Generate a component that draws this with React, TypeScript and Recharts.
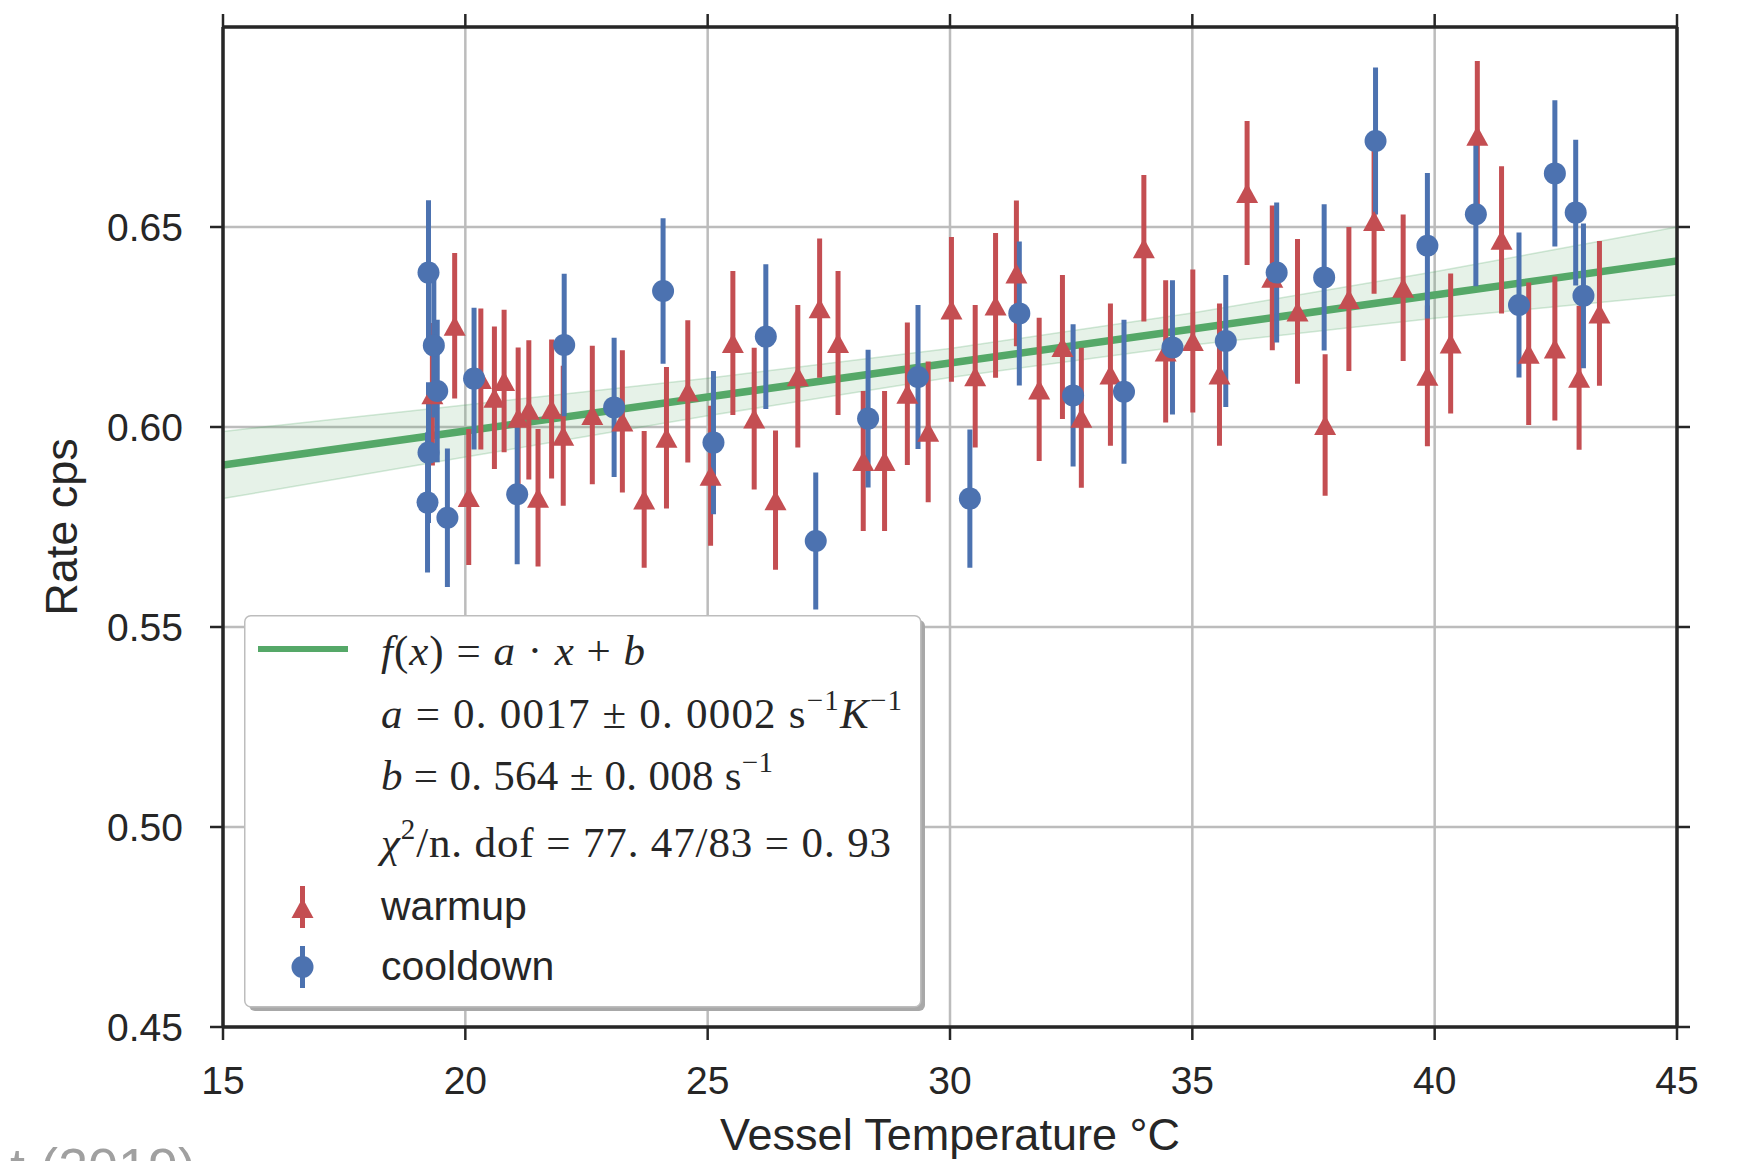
import React from 'react';
import { ComposedChart, Scatter, Line, Area, XAxis, YAxis, CartesianGrid, ErrorBar } from 'recharts';

const xTicks = [15, 20, 25, 30, 35, 40, 45];
const yTicks = [0.45, 0.5, 0.55, 0.6, 0.65];

// warmup run (temperature in degC, rate in cps, 1 sigma error)
const warmupT = [
  19.32, 19.78, 20.07, 20.32, 20.6, 20.8, 21.09, 21.31, 21.5, 21.78, 22.02, 22.62, 23.24, 23.69, 24.15, 24.59, 25.06, 25.52,
  25.96, 26.4, 26.86, 27.31, 27.69, 28.21, 28.65, 29.12, 29.55, 30.03, 30.52, 30.94, 31.37, 31.84, 32.32, 32.71, 33.31, 34.0,
  34.45, 35.01, 35.56, 36.13, 36.65, 37.17, 37.74, 38.23, 38.75, 39.35, 39.85, 40.33, 40.88, 41.38, 41.94, 42.48, 42.98, 43.4,
];
const warmupRate = [
  0.6082, 0.6253, 0.5825, 0.612, 0.6073, 0.6115, 0.6023, 0.6043, 0.5823, 0.6045, 0.5978, 0.603, 0.6014, 0.5819, 0.5973, 0.6089, 0.5878, 0.621,
  0.6021, 0.5817, 0.6127, 0.6297, 0.621, 0.5915, 0.5915, 0.6083, 0.5988, 0.6294, 0.6127, 0.6304, 0.6384, 0.6094, 0.62, 0.6023, 0.6131, 0.6447,
  0.6189, 0.6215, 0.6131, 0.6585, 0.6373, 0.6289, 0.6005, 0.632, 0.6515, 0.6348, 0.6128, 0.6209, 0.6728, 0.6468, 0.6183, 0.6196, 0.6123, 0.6284,
];
const warmupErr = [
  0.0178, 0.0182, 0.017, 0.0176, 0.0178, 0.0178, 0.0176, 0.0174, 0.0172, 0.0174, 0.0175, 0.0173, 0.0178, 0.0171, 0.0177, 0.0178, 0.0175, 0.018,
  0.0177, 0.0174, 0.0178, 0.0174, 0.018, 0.0175, 0.0175, 0.0178, 0.0176, 0.0181, 0.0178, 0.0181, 0.0182, 0.0179, 0.018, 0.0175, 0.0178, 0.0183,
  0.0178, 0.0179, 0.0178, 0.018, 0.0181, 0.0181, 0.0177, 0.018, 0.0182, 0.0183, 0.0176, 0.0175, 0.0187, 0.0184, 0.0178, 0.018, 0.018, 0.0181,
];

// cooldown run
const cooldownT = [
  19.24, 19.35, 19.42, 19.24, 19.22, 19.63, 20.18, 21.07, 22.04, 23.07, 24.08, 25.12, 26.2, 27.23, 28.31, 29.34,
  30.41, 31.43, 32.54, 33.59, 34.59, 35.69, 36.74, 37.72, 38.78, 39.85, 40.85, 41.74, 42.48, 42.91, 43.07,
];
const cooldownRate = [
  0.6386, 0.6204, 0.609, 0.5936, 0.5811, 0.5773, 0.6121, 0.5832, 0.6205, 0.6049, 0.634, 0.5961, 0.6226, 0.5715, 0.6021, 0.6125,
  0.5821, 0.6284, 0.6079, 0.6088, 0.6199, 0.6215, 0.6386, 0.6374, 0.6715, 0.6453, 0.6532, 0.6305, 0.6634, 0.6536, 0.6328,
];
const cooldownErr = [
  0.0181, 0.018, 0.0178, 0.0176, 0.0175, 0.0173, 0.0177, 0.0175, 0.0178, 0.0174, 0.0182, 0.0179, 0.0181, 0.0171, 0.0172, 0.018,
  0.0173, 0.018, 0.0178, 0.018, 0.0168, 0.0165, 0.0175, 0.0183, 0.0184, 0.0182, 0.018, 0.0181, 0.0183, 0.0182, 0.0181,
];

// linear fit and its confidence band, read at the grid lines
const fitT = [15, 20, 25, 30, 35, 40, 45];
const fitRate = [0.5905, 0.599, 0.6075, 0.616, 0.6245, 0.633, 0.6415];
const bandLow = [0.5821, 0.5925, 0.6028, 0.6124, 0.6205, 0.6272, 0.633];
const bandHigh = [0.5989, 0.6055, 0.6122, 0.6196, 0.6285, 0.6388, 0.65];

const RED = '#c44e52';
const BLUE = '#4c72b0';
const GREEN = '#55a868';
const INK = '#262626';
const SANS = 'Liberation Sans, Arial, sans-serif';
const SERIF = 'Liberation Serif, Times New Roman, serif';

const warmup = warmupT.map((x, i) => ({ x, y: warmupRate[i], err: warmupErr[i] }));
const cooldown = cooldownT.map((x, i) => ({ x, y: cooldownRate[i], err: cooldownErr[i] }));
const fitData = fitT.map((x, i) => ({ x, fit: fitRate[i], band: [bandLow[i], bandHigh[i]] }));

const Triangle = (props: any) => {
  const { cx, cy } = props;
  if (cx == null || cy == null) return null;
  return <path d={`M${cx},${cy - 10}L${cx + 11},${cy + 10}L${cx - 11},${cy + 10}Z`} fill={RED} />;
};

const Dot = (props: any) => {
  const { cx, cy } = props;
  if (cx == null || cy == null) return null;
  return <circle cx={cx} cy={cy} r={11} fill={BLUE} />;
};

// top/right axes only carry tick marks, no labels
const NoLabel = () => <g />;

const tickStyle = { fill: INK, fontSize: 39, fontFamily: SANS };
const frame = { stroke: INK, strokeWidth: 3.5 };
const tickMark = { stroke: INK, strokeWidth: 2.5 };

const FitLegend = () => (
  <svg width={690} height={400} style={{ position: 'absolute', left: 244, top: 615 }}>
    <rect x={5} y={5} width={676} height={391} rx={6} fill="#a8a8a8" />
    <rect x={0.75} y={0.75} width={676} height={391} rx={6} fill="#fff" stroke="#bdbdbd" strokeWidth={1.5} />
    <line x1={14} x2={104} y1={34} y2={34} stroke={GREEN} strokeWidth={6} />
    <g fontFamily={SERIF} fontSize={43} fill={INK} style={{ whiteSpace: 'pre' }}>
      <text x={137} y={50} textLength={264} lengthAdjust="spacing">
        <tspan fontStyle="italic">f</tspan>(<tspan fontStyle="italic">x</tspan>) = <tspan fontStyle="italic">a</tspan> · <tspan fontStyle="italic">x</tspan> + <tspan fontStyle="italic">b</tspan>
      </text>
      <text x={137} y={113} textLength={521} lengthAdjust="spacing">
        <tspan fontStyle="italic">a</tspan>
        <tspan>{' = 0. 0017 ± 0. 0002  s'}</tspan>
        <tspan dy={-18} fontSize={29}>−1</tspan>
        <tspan dy={18} fontStyle="italic">K</tspan>
        <tspan dy={-18} fontSize={29}>−1</tspan>
      </text>
      <text x={137} y={175} textLength={392} lengthAdjust="spacing">
        <tspan fontStyle="italic">b</tspan>
        <tspan>{' = 0. 564 ± 0. 008  s'}</tspan>
        <tspan dy={-18} fontSize={29}>−1</tspan>
      </text>
      <text x={137} y={242} textLength={510} lengthAdjust="spacing">
        <tspan fontStyle="italic">χ</tspan>
        <tspan dy={-18} fontSize={29}>2</tspan>
        <tspan dy={18}>{'/n. dof = 77. 47/83 = 0. 93'}</tspan>
      </text>
    </g>
    <line x1={58.5} x2={58.5} y1={271} y2={313} stroke={RED} strokeWidth={5} />
    <path d="M58.5,283L69.5,303L47.5,303Z" fill={RED} />
    <line x1={58.5} x2={58.5} y1={331} y2={373} stroke={BLUE} strokeWidth={5} />
    <circle cx={58.5} cy={352} r={11} fill={BLUE} />
    <text x={137} y={305} fontFamily={SANS} fontSize={41} fill={INK}>warmup</text>
    <text x={137} y={365} fontFamily={SANS} fontSize={41} fill={INK}>cooldown</text>
  </svg>
);

const App: React.FC = () => {
  return (
    <div style={{ position: 'absolute', left: 0, top: 0, width: 1752, height: 1161, overflow: 'hidden', background: '#fff' }}>
      <ComposedChart width={1752} height={1161} data={fitData} margin={{ top: 26, right: 74, bottom: 34, left: 113 }}>
        <CartesianGrid stroke="#bcbcbc" strokeWidth={2.5} />
        <XAxis
          dataKey="x"
          type="number"
          domain={[15, 45]}
          ticks={xTicks}
          allowDataOverflow
          height={100}
          tickSize={13}
          tickMargin={26}
          tick={tickStyle}
          axisLine={frame}
          tickLine={tickMark}
        />
        <XAxis
          xAxisId="top"
          orientation="top"
          dataKey="x"
          type="number"
          domain={[15, 45]}
          ticks={xTicks}
          allowDataOverflow
          height={1}
          tickSize={13}
          tick={NoLabel}
          axisLine={frame}
          tickLine={tickMark}
        />
        <YAxis
          type="number"
          domain={[0.45, 0.7]}
          ticks={yTicks}
          allowDataOverflow
          width={110}
          tickSize={13}
          tickMargin={27}
          tick={tickStyle}
          tickFormatter={(v: number) => v.toFixed(2)}
          axisLine={frame}
          tickLine={tickMark}
        />
        <YAxis
          yAxisId="right"
          orientation="right"
          type="number"
          domain={[0.45, 0.7]}
          ticks={yTicks}
          allowDataOverflow
          width={1}
          tickSize={13}
          tick={NoLabel}
          axisLine={frame}
          tickLine={tickMark}
        />
        <Area
          dataKey="band"
          type="linear"
          fill={GREEN}
          fillOpacity={0.15}
          stroke={GREEN}
          strokeOpacity={0.25}
          strokeWidth={1.5}
          isAnimationActive={false}
        />
        <Line dataKey="fit" type="linear" stroke={GREEN} strokeWidth={7.5} dot={false} isAnimationActive={false} />
        <Scatter data={warmup} dataKey="y" shape={Triangle} isAnimationActive={false}>
          <ErrorBar dataKey="err" direction="y" width={0} stroke={RED} strokeWidth={5} isAnimationActive={false} />
        </Scatter>
        <Scatter data={cooldown} dataKey="y" shape={Dot} isAnimationActive={false}>
          <ErrorBar dataKey="err" direction="y" width={0} stroke={BLUE} strokeWidth={5} isAnimationActive={false} />
        </Scatter>
      </ComposedChart>
      <svg width={1752} height={1161} style={{ position: 'absolute', left: 0, top: 0, pointerEvents: 'none' }}>
        <text x={77} y={527} transform="rotate(-90 77 527)" textAnchor="middle" fontFamily={SANS} fontSize={45} fill={INK}>
          Rate cps
        </text>
        <text x={950} y={1150} textAnchor="middle" fontFamily={SANS} fontSize={45} fill={INK}>
          Vessel Temperature °C
        </text>
        <text x={10} y={1186} fontFamily={SANS} fontSize={54} fill="#a0a0a0">
          t (2019)
        </text>
      </svg>
      <FitLegend />
    </div>
  );
};

export default App;
